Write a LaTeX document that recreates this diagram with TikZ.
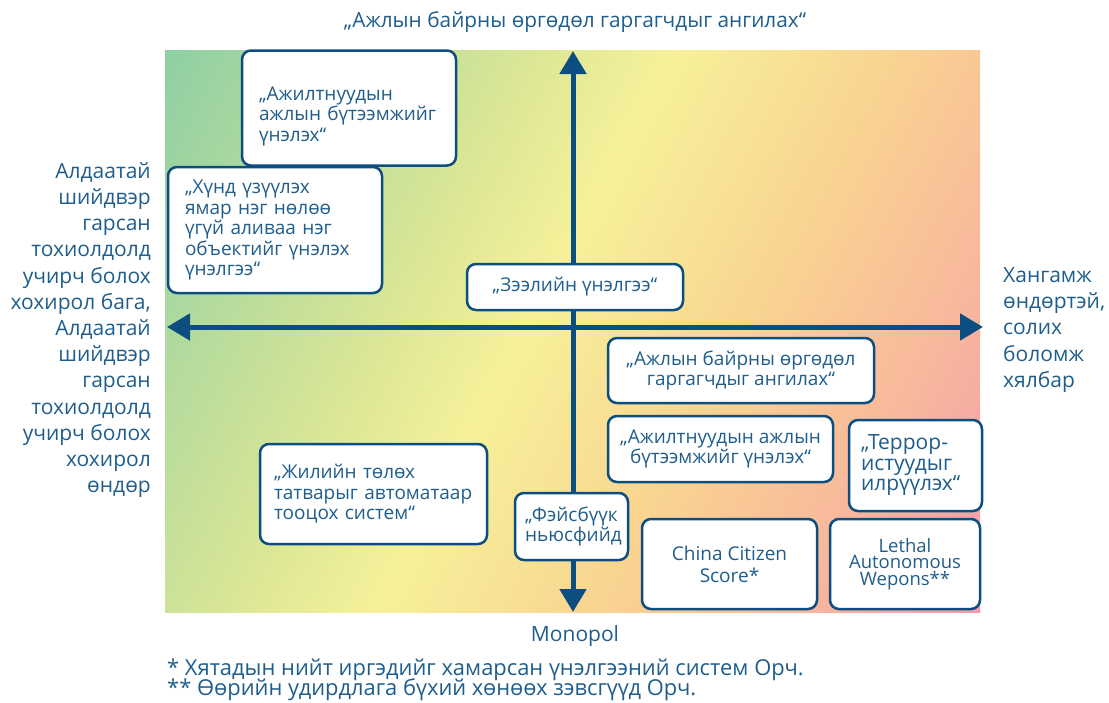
\documentclass[tikz,border=0pt]{standalone}
\usepackage{fontspec}
\setmainfont{Open Sans}
\usetikzlibrary{arrows.meta}
\definecolor{axisblue}{RGB}{12,78,128}
\definecolor{txtblue}{RGB}{31,94,140}
\definecolor{gA}{HTML}{8ECFA5}
\definecolor{gB}{HTML}{DDE795}
\definecolor{gC}{HTML}{F6F19A}
\definecolor{gD}{HTML}{F9D590}
\definecolor{gE}{HTML}{F8B99C}
\definecolor{gF}{HTML}{F39AAA}
\pgfdeclarehorizontalshading{bgshade}{100bp}{color(0bp)=(gA); color(16bp)=(gA); color(39bp)=(gB); color(47bp)=(gC); color(60bp)=(gD); color(72bp)=(gE); color(84bp)=(gF); color(100bp)=(gF)}
\newcommand\boxfont{\fontsize{19}{20.5}\selectfont}
\newcommand\lblfont{\fontsize{21}{26.2}\selectfont}
\tikzset{
  qbox/.style={draw=axisblue, line width=2.5pt, rounded corners=9pt, fill=white,
    text=txtblue, font=\boxfont, inner sep=0pt},
  lbl/.style={text=txtblue, font=\lblfont, inner sep=0pt},
  axisline/.style={draw=axisblue, line width=5pt,
    {Triangle[width=26pt,length=23pt]}-{Triangle[width=26pt,length=23pt]}}
}
\begin{document}
\begin{tikzpicture}[x=1pt,y=-1pt]
\useasboundingbox (0,0) rectangle (1109,702);
\path[shading=bgshade, shading angle=-28] (165,50) rectangle (980,612);
% axes
\coordinate (vt) at (573,51);
\coordinate (vb) at (573,612);
\coordinate (hl) at (167,327);
\coordinate (hr) at (983,327);
\draw[axisline] (vb) -- (vt);
\draw[axisline] (hl) -- (hr);
% boxes
\node[qbox, minimum width=214pt, minimum height=115pt, text width=180pt, inner xsep=17pt, align=left] (b1) at (349,108)
  {\rule{0pt}{30pt}„Ажилтнуудын\\ажлын бүтээмжийг\\үнэлэх“};
\node[qbox, minimum width=214pt, minimum height=126pt, text width=180pt, inner xsep=17pt, align=left] (b2) at (275,230)
  {„Хүнд үзүүлэх\\ямар нэг нөлөө\\үгүй аливаа нэг\\объектийг үнэлэх\\үнэлгээ“};
\node[qbox, minimum width=216pt, minimum height=46pt, align=center] (b3) at (575,287)
  {„Зээлийн үнэлгээ“};
\node[qbox, minimum width=266pt, minimum height=65pt, align=center] (b4) at (741,370.5)
  {„Ажлын байрны өргөдөл\\гаргагчдыг ангилах“};
\node[qbox, minimum width=225pt, minimum height=66pt, align=center] (b5) at (720.5,449)
  {„Ажилтнуудын ажлын\\бүтээмжийг үнэлэх“};
\node[qbox, minimum width=133pt, minimum height=91pt, text width=109pt, inner xsep=12pt, align=left, font=\fontsize{21}{20.5}\selectfont] (b6) at (915.5,465.5)
  {„Террор-\\истуудыг\\илрүүлэх“};
\node[qbox, minimum width=227pt, minimum height=100pt, text width=199pt, inner xsep=14pt, align=left] (b7) at (373.5,494)
  {„Жилийн төлөх\\татварыг автоматаар\\тооцох систем“};
\node[qbox, minimum width=113pt, minimum height=67pt, text width=93pt, inner xsep=10pt, align=left] (b8) at (571.5,526.5)
  {„Фэйсбүүк\\ньюсфийд};
\node[qbox, minimum width=175pt, minimum height=90pt, align=center, font=\fontsize{19}{22}\selectfont] (b9) at (729.5,564)
  {China Citizen\\Score*};
\node[qbox, minimum width=150pt, minimum height=90pt, align=center, font=\fontsize{18.5}{16.7}\selectfont] (b10) at (905,564)
  {Lethal\\Autonomous\\Wepons**};
% labels
\node[lbl, font=\fontsize{20.8}{24}\selectfont] (title) at (575,22) {„Ажлын байрны өргөдөл гаргагчдыг ангилах“};
\node[lbl, anchor=east, align=right] (leftlbl) at (151,330)
  {Алдаатай\\шийдвэр\\гарсан\\тохиолдолд\\учирч болох\\хохирол бага,\\Алдаатай\\шийдвэр\\гарсан\\тохиолдолд\\учирч болох\\хохирол\\өндөр};
\node[lbl, anchor=west, align=left] (rightlbl) at (1003,330)
  {Хангамж\\өндөртэй,\\солих\\боломж\\хялбар};
\node[lbl] (mono) at (575,636) {Monopol};
\node[lbl, anchor=base west, font=\fontsize{21.9}{22}\selectfont] (fn1) at (167,675) {* Хятадын нийт иргэдийг хамарсан үнэлгээний систем Орч.};
\node[lbl, anchor=base west, font=\fontsize{21.9}{22}\selectfont] (fn2) at (167,695.5) {** Өөрийн удирдлага бүхий хөнөөх зэвсгүүд Орч.};
\end{tikzpicture}
\end{document}
